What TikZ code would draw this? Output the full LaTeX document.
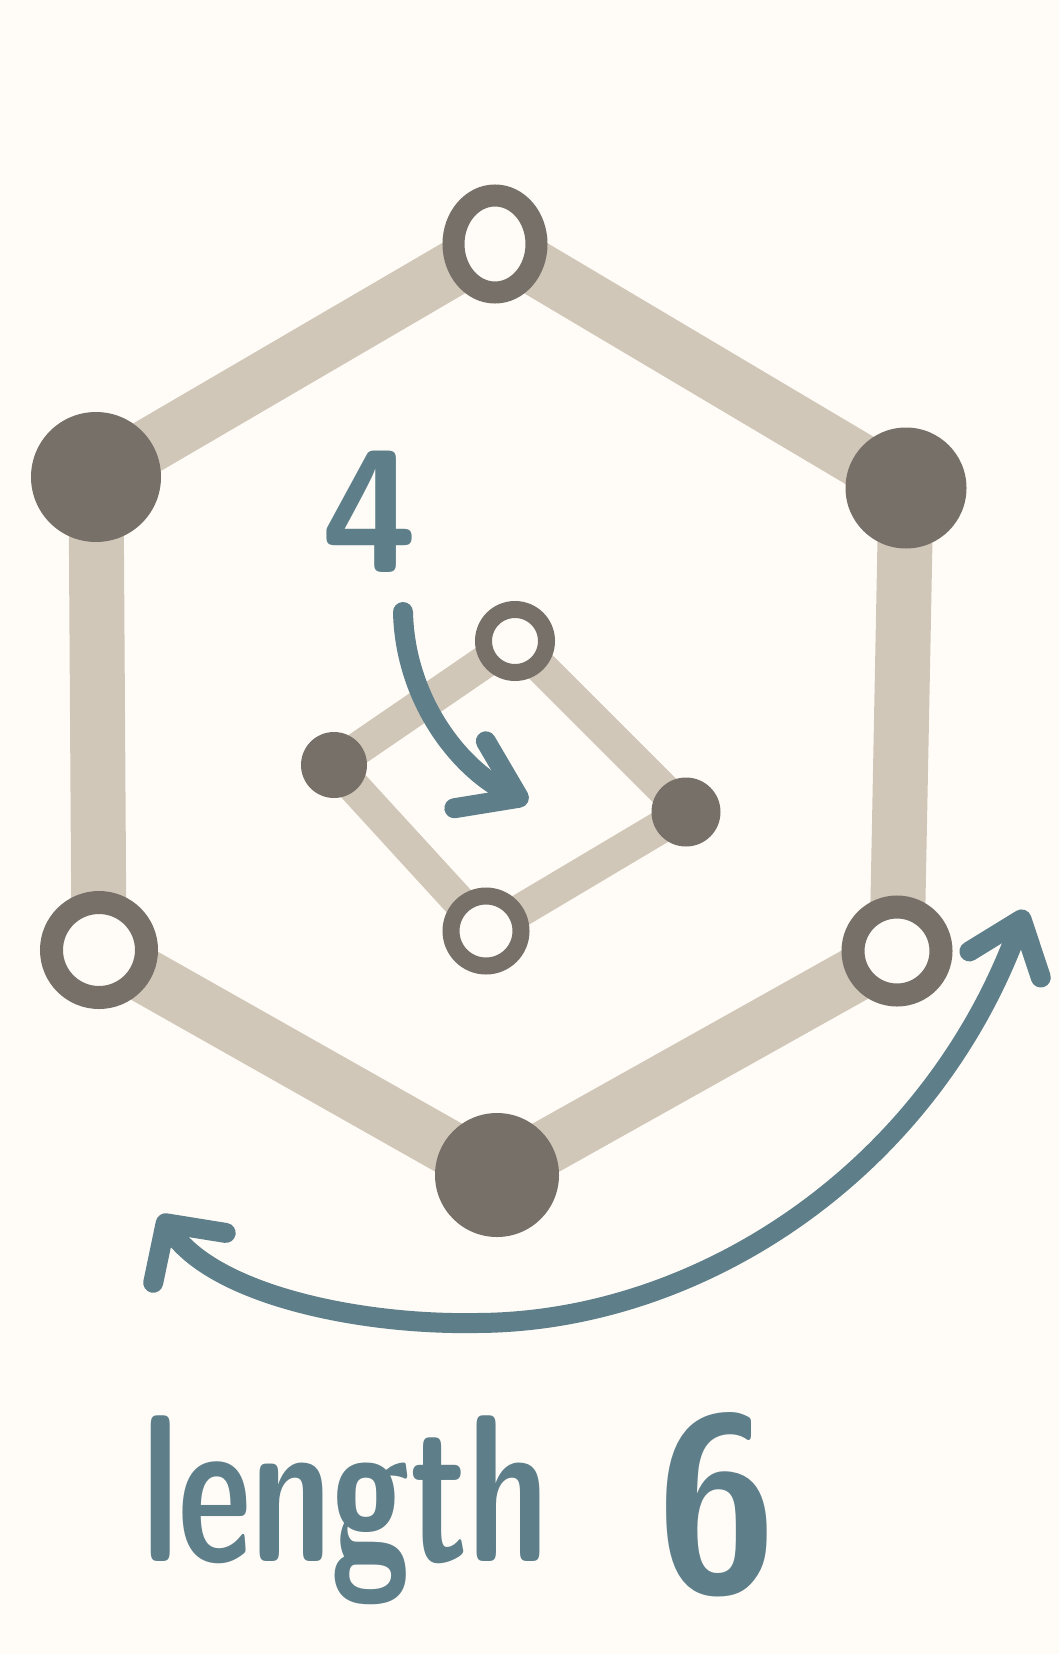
\documentclass[tikz,border=0pt]{standalone}
\usetikzlibrary{arrows.meta,shapes.geometric}
\definecolor{bgc}{HTML}{FFFCF7}
\definecolor{edgec}{HTML}{D1C7B8}
\definecolor{nodec}{HTML}{767069}
\definecolor{inkc}{HTML}{5E7F8A}
\pgfdeclarelayer{bglayer}
\pgfdeclarelayer{edgelayer}
\pgfsetlayers{bglayer,edgelayer,main}
\begin{document}
\begin{tikzpicture}[x=1pt,y=-1pt,
  filled/.style={circle,fill=nodec,inner sep=0pt},
  hollow/.style={circle,fill=bgc,draw=nodec,inner sep=0pt},
  outeredge/.style={draw=edgec,line width=55pt,line cap=round},
  inneredge/.style={draw=edgec,line width=33pt,line cap=round},
  inkline/.style={draw=inkc,line cap=round,line join=round,line width=20pt},
  inktext/.style={text=inkc,inner sep=0pt,font=\sffamily\bfseries}
]
\useasboundingbox (0,0) rectangle (1059,1654);
\begin{pgfonlayer}{bglayer}
\fill[bgc] (0,0) rectangle (1059,1654);
\end{pgfonlayer}

% outer hexagon
\node[hollow,ellipse,line width=22pt,minimum width=83pt,minimum height=97pt] (t) at (495,244) {};
\node[filled,minimum size=130pt] (ul) at (96,477) {};
\node[filled,minimum size=121pt] (ur) at (906,488) {};
\node[hollow,line width=23pt,minimum size=95pt] (ll) at (99,950) {};
\node[hollow,line width=23pt,minimum size=88pt] (lr) at (897,951) {};
\node[filled,minimum size=124pt] (b) at (497,1175) {};

% inner square
\node[hollow,line width=17pt,minimum size=63pt] (it) at (515,641) {};
\node[filled,minimum size=66pt] (il) at (334,765) {};
\node[filled,minimum size=69pt] (ir) at (686,812) {};
\node[hollow,line width=17pt,minimum size=70pt] (ib) at (486,931) {};

\begin{pgfonlayer}{edgelayer}
\draw[outeredge] (t.center) -- (ul.center);
\draw[outeredge] (t.center) -- (ur.center);
\draw[outeredge] (ur.center) -- (lr.center);
\draw[outeredge] (lr.center) -- (b.center);
\draw[outeredge] (b.center) -- (ll.center);
\draw[outeredge] (ll.center) -- (ul.center);
\draw[inneredge] (it.center) -- (il.center);
\draw[inneredge] (it.center) -- (ir.center);
\draw[inneredge] (ir.center) -- (ib.center);
\draw[inneredge] (ib.center) -- (il.center);
\end{pgfonlayer}

% label 4 and small arrow
\node[inktext,font=\sffamily\bfseries\fontsize{175}{200}\selectfont] (four) at (370,512) {4};
\coordinate (sa) at (403,612);
\coordinate (sb) at (528,802);
\draw[inkline,-{Straight Barb[length=54pt,width=74pt,line cap=round,line join=round]}]
  (sa) .. controls (405,700) and (460,770) .. (sb);

% big double arrow
\coordinate (ba) at (160,1215);
\coordinate (bb) at (1025,910);
\draw[inkline,{Straight Barb[length=42pt,width=88pt,line cap=round,line join=round]}-{Straight Barb[length=48pt,width=76pt,line cap=round,line join=round]}]
  (ba) .. controls (215,1295) and (360,1325) .. (475,1323)
  .. controls (700,1323) and (930,1170) .. (bb);

% caption
\node[inktext,anchor=base west] (cap) at (142,1561)
  {\scalebox{0.68}[1]{\fontsize{210}{230}\selectfont length }\hspace{56pt}\scalebox{0.88}[1]{\raisebox{-30pt}{\fontsize{250}{270}\selectfont 6}}};
\end{tikzpicture}
\end{document}
